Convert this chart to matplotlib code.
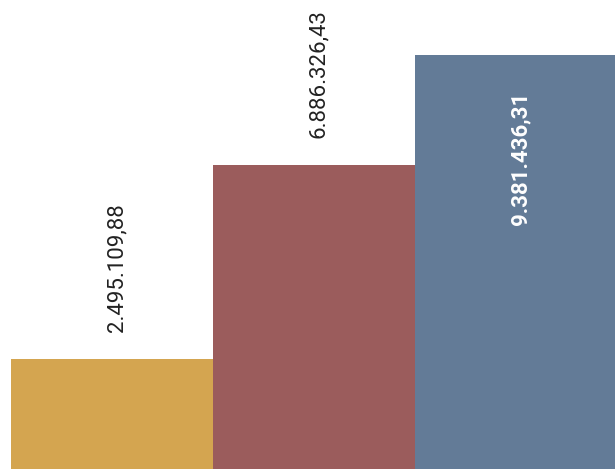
import matplotlib
matplotlib.use("Agg")
import matplotlib.pyplot as plt

categories = ["A", "B", "C"]
values = [2495109.88, 6886326.43, 9381436.31]
labels = ["2.495.109,88", "6.886.326,43", "9.381.436,31"]
colors = ["#D4A550", "#9B5C5C", "#637B97"]

fig = plt.figure(figsize=(6.15, 4.69), dpi=100)
ax = fig.add_axes([0, 0, 1, 1])
x = list(range(len(categories)))
ax.bar(x, values, width=1.0, color=colors, linewidth=0)
ax.set_xlim(-0.557, 2.495)
ax.set_ylim(0, 10.62e6)
ax.axis("off")

for i, (v, lab) in enumerate(zip(values, labels)):
    if i < 2:
        ax.annotate(lab, xy=(i, v), xytext=(5, 27), textcoords="offset pixels",
                    rotation=90, ha="center", va="bottom", fontsize=16,
                    family="Roboto", color="#222222")
    else:
        ax.annotate(lab, xy=(i, v), xytext=(5, -37), textcoords="offset pixels",
                    rotation=90, ha="center", va="top", fontsize=16,
                    family="Roboto", fontweight="bold", color="white")

fig.savefig("out.png", dpi=100)
